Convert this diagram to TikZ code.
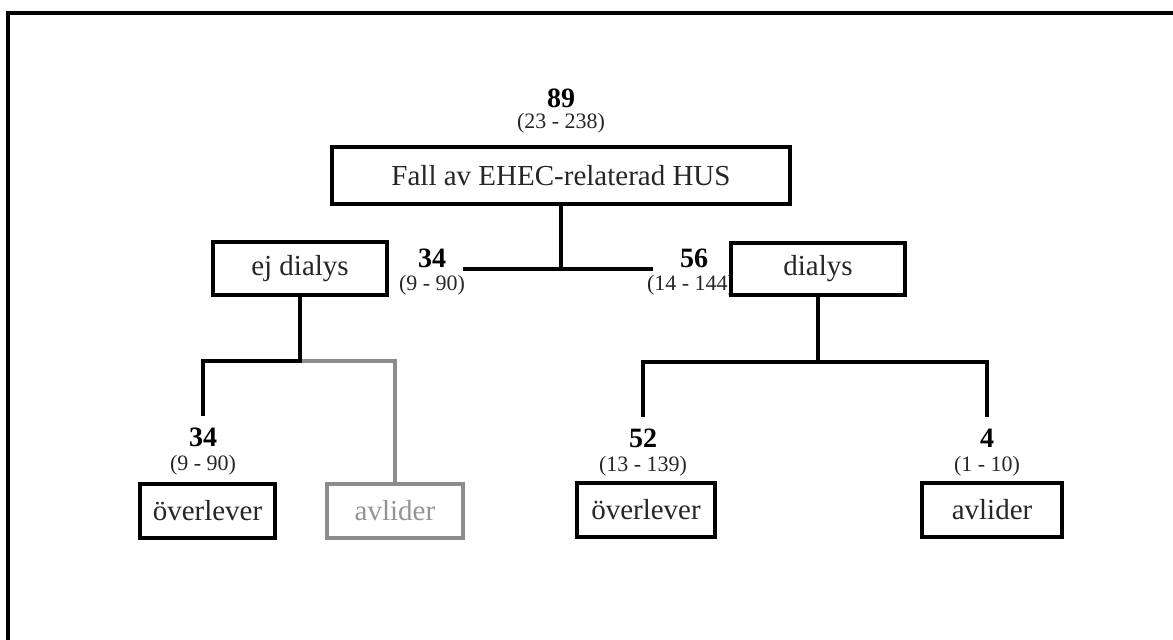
\documentclass[tikz,border=0pt]{standalone}
\usepackage{fontspec}
\setmainfont{Liberation Serif}
\begin{document}
\begin{tikzpicture}[x=1pt,y=-1pt,
  boxtext/.style={font=\fontsize{29}{34}\selectfont, text=black!85},
  box/.style={draw=black, line width=3.2pt, fill=white, inner sep=0pt, boxtext},
  graybox/.style={draw=black!45, line width=3.2pt, fill=white, inner sep=0pt, boxtext, text=black!42},
  num/.style={font=\fontsize{28}{32}\selectfont\bfseries, inner sep=0pt},
  rng/.style={font=\fontsize{22}{26}\selectfont, inner sep=0pt, text=black!85},
  conn/.style={line width=3.2pt, draw=black},
  grayconn/.style={line width=3.2pt, draw=black!45}
]
\useasboundingbox (0,0) rectangle (1173,640);
% frame (top and left edges visible)
\draw[line width=3.2pt] (1173,13) -- (8,13) -- (8,640);

% labels (drawn before boxes so that boxes cover overflow)
\node[num] (n89) at (561,98) {89};
\node[rng] (r89) at (561,123) {(23 - 238)};
\node[num] (n34a) at (432,258) {34};
\node[rng] (r34a) at (432,285) {(9 - 90)};
\node[num] (n56) at (694,258) {56};
\node[rng] (r56) at (691,285) {(14 - 144)};
\node[num] (n34b) at (203,437) {34};
\node[rng] (r34b) at (203,465) {(9 - 90)};
\node[num] (n52) at (643,438) {52};
\node[rng] (r52) at (643,466) {(13 - 139)};
\node[num] (n4) at (987,438) {4};
\node[rng] (r4) at (987,466) {(1 - 10)};

% connector coordinates
\coordinate (hL) at (463,269);
\coordinate (hR) at (653,269);
\coordinate (ejL) at (203,361);
\coordinate (ejLe) at (203,416);
\coordinate (ejR) at (395,361);
\coordinate (diL) at (643,362);
\coordinate (diLe) at (643,417);
\coordinate (diR) at (987,362);
\coordinate (diRe) at (987,417);

% boxes
\node[box, minimum width=458pt, minimum height=57pt] (fall) at (561,175.5) {Fall av EHEC-relaterad HUS};
\node[box, minimum width=174pt, minimum height=53pt] (ej) at (300,268.5) {ej dialys};
\node[box, minimum width=174pt, minimum height=52pt] (dia) at (818,269) {dialys};
\node[box, minimum width=135pt, minimum height=54pt] (ov1) at (207.5,511) {överlever};
\node[graybox, minimum width=136pt, minimum height=54pt] (av1) at (395,511) {avlider};
\node[box, minimum width=138pt, minimum height=54pt] (ov2) at (646,510) {överlever};
\node[box, minimum width=140pt, minimum height=54pt] (av2) at (992,510) {avlider};

% connectors
\draw[conn] (fall.south) -- (fall.south |- hL);
\draw[conn] (hL) -- (hR);
\draw[grayconn] (ej.south |- ejR) -- (ejR) -- (av1.north);
\draw[conn] (ej.south) -- (ej.south |- ejL) -- (ejL) -- (ejLe);
\draw[conn] (dia.south) -- (dia.south |- diL);
\draw[conn] (diLe) -- (diL) -- (diR) -- (diRe);
\end{tikzpicture}
\end{document}
